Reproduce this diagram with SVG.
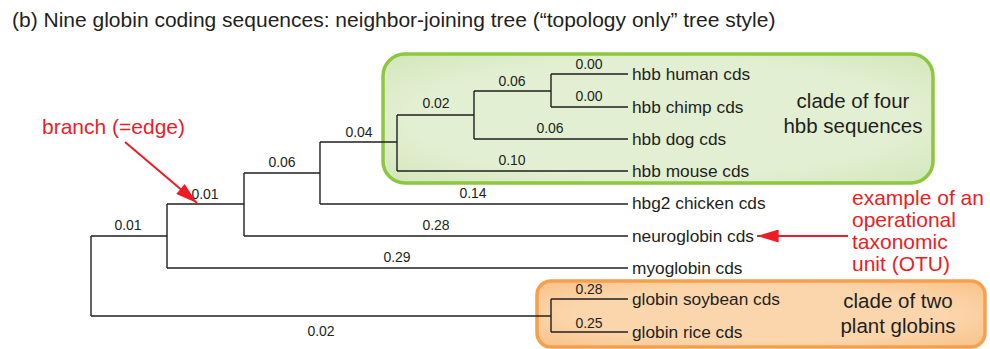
<svg xmlns="http://www.w3.org/2000/svg" width="990" height="349" viewBox="0 0 990 349">
<defs>
<radialGradient id="gfill" cx="0.5" cy="0.5" r="0.75">
<stop offset="0.6" stop-color="#e2efd2"/>
<stop offset="1" stop-color="#cfe5b4"/>
</radialGradient>
<radialGradient id="ofill" cx="0.5" cy="0.5" r="0.75">
<stop offset="0.55" stop-color="#fbd6ac"/>
<stop offset="1" stop-color="#f8bd80"/>
</radialGradient>
<marker id="ah2" viewBox="0 0 20 12" refX="20" refY="6" markerWidth="22" markerHeight="13" markerUnits="userSpaceOnUse" orient="auto">
<path d="M0,0 L20,6 L0,12 z" fill="#ed1c24"/>
</marker>
</defs>
<style>
text{font-family:"Liberation Sans",Arial,sans-serif;fill:#231f20}
.t{font-size:21px}
.leaf{font-size:17.3px}
.bl{font-size:14px;text-anchor:middle}
.clade{font-size:20.5px;text-anchor:middle}
.red{font-size:21px;fill:#ed1c24}
.edge{fill:none;stroke:#231f20;stroke-width:1.4}
.ann{fill:none;stroke:#ed1c24;stroke-width:2}
</style>
<rect width="990" height="349" fill="#ffffff"/>
<text class="t" x="12" y="27">(b) Nine globin coding sequences: neighbor-joining tree (“topology only” tree style)</text>

<g id="clade-hbb">
<rect x="383" y="54" width="550" height="129" rx="22" fill="url(#gfill)" stroke="#8dc63f" stroke-width="3.5"/>
<text class="clade" x="853" y="108">clade of four</text>
<text class="clade" x="853" y="133">hbb sequences</text>
</g>
<g id="clade-plant">
<rect x="537" y="281" width="448" height="66" rx="14" fill="url(#ofill)" stroke="#f6a04d" stroke-width="3.5"/>
<text class="clade" x="898" y="308">clade of two</text>
<text class="clade" x="898" y="333">plant globins</text>
</g>

<g id="connectors">
<path class="edge" d="M91,236 V316 M91,236 H167 M91,316 H551"/>
<path class="edge" d="M167,204 V268 M167,204 H244 M167,268 H628"/>
<path class="edge" d="M244,173 V236 M244,173 H320 M244,236 H628"/>
<path class="edge" d="M320,142 V204 M320,142 H397 M320,204 H628"/>
<path class="edge" d="M397,115 V171 M397,115 H474 M397,171 H628"/>
<path class="edge" d="M474,91 V139 M474,91 H551 M474,139 H628"/>
<path class="edge" d="M551,74 V107 M551,74 H628 M551,107 H628"/>
<path class="edge" d="M551,299 V332 M551,299 H628 M551,332 H628"/>
</g>

<g id="branch-labels">
<text class="bl" x="128" y="230">0.01</text>
<text class="bl" x="205" y="199">0.01</text>
<text class="bl" x="282" y="167">0.06</text>
<text class="bl" x="359" y="137">0.04</text>
<text class="bl" x="436" y="108">0.02</text>
<text class="bl" x="512" y="86">0.06</text>
<text class="bl" x="589" y="69">0.00</text>
<text class="bl" x="589" y="101">0.00</text>
<text class="bl" x="550" y="133">0.06</text>
<text class="bl" x="512" y="165">0.10</text>
<text class="bl" x="473" y="198">0.14</text>
<text class="bl" x="436" y="230">0.28</text>
<text class="bl" x="397" y="262">0.29</text>
<text class="bl" x="321" y="336">0.02</text>
<text class="bl" x="589" y="294">0.28</text>
<text class="bl" x="589" y="328">0.25</text>
</g>

<g id="leaf-human"><text class="leaf" x="632" y="80">hbb human cds</text></g>
<g id="leaf-chimp"><text class="leaf" x="632" y="113">hbb chimp cds</text></g>
<g id="leaf-dog"><text class="leaf" x="632" y="145">hbb dog cds</text></g>
<g id="leaf-mouse"><text class="leaf" x="632" y="177">hbb mouse cds</text></g>
<g id="leaf-chicken"><text class="leaf" x="632" y="209">hbg2 chicken cds</text></g>
<g id="leaf-neuroglobin"><text class="leaf" x="632" y="242">neuroglobin cds</text></g>
<g id="leaf-myoglobin"><text class="leaf" x="632" y="274">myoglobin cds</text></g>
<g id="leaf-soybean"><text class="leaf" x="632" y="305">globin soybean cds</text></g>
<g id="leaf-rice"><text class="leaf" x="632" y="338">globin rice cds</text></g>

<g id="annot-branch">
<text class="red" x="42" y="134">branch (=edge)</text>
<line class="ann" x1="125" y1="142" x2="197" y2="203" marker-end="url(#ah2)"/>
</g>
<g id="annot-otu">
<text class="red" x="852" y="205">example of an</text>
<text class="red" x="852" y="227">operational</text>
<text class="red" x="852" y="249">taxonomic</text>
<text class="red" x="852" y="271">unit (OTU)</text>
<line class="ann" x1="848" y1="236" x2="757" y2="236" marker-end="url(#ah2)"/>
</g>
</svg>
